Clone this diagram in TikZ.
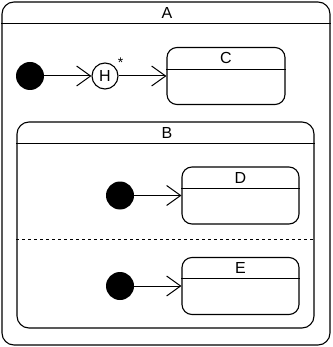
\documentclass[tikz,border=0pt]{standalone}
\usepackage{fontspec}
\setmainfont{Liberation Sans}
\usetikzlibrary{arrows.meta}
\begin{document}
\begin{tikzpicture}[x=1pt,y=-1pt,
  statebox/.style={draw, line width=1.1pt, inner sep=0pt},
  initstate/.style={circle, fill=black, minimum size=28pt, inner sep=0pt},
  histstate/.style={circle, draw, line width=1.1pt, minimum size=26pt, inner sep=0pt, font=\fontsize{16}{16}\selectfont},
  trans/.style={-{Straight Barb[length=14pt,width=20pt,line width=1pt]}, line width=1pt},
  titleline/.style={line width=0.9pt},
  lbl/.style={font=\fontsize{16}{16}\selectfont, inner sep=0pt}]
\useasboundingbox (0,0) rectangle (332,347);
% A
\node[statebox, rounded corners=12pt, minimum width=328pt, minimum height=343pt] (A) at (166,173.5) {};
\draw[titleline] (A.west |- 0,23) -- (A.east |- 0,23);
\node[lbl] (Alab) at (167,13) {A};
% initial + history + C
\node[initstate] (i1) at (30,76) {};
\node[histstate] (H) at (105,76) {H};
\node[font=\fontsize{14}{14}\selectfont, inner sep=0pt] (star) at (120.5,63) {*};
\node[statebox, rounded corners=10pt, minimum width=118pt, minimum height=57pt] (C) at (226,76) {};
\draw[titleline] (C.west |- 0,69) -- (C.east |- 0,69);
\node[lbl] (Clab) at (226,58) {C};
\draw[trans] (i1) -- (H);
\draw[trans] (H) -- (C);
% B
\node[statebox, rounded corners=12pt, minimum width=297pt, minimum height=206pt] (B) at (165.5,225) {};
\draw[titleline] (B.west |- 0,143) -- (B.east |- 0,143);
\node[lbl] (Blab) at (167,133) {B};
\draw[dashed, line width=0.8pt] (B.west |- 0,239) -- (B.east |- 0,239);
% D region
\node[initstate] (i2) at (120,195.5) {};
\node[statebox, rounded corners=10pt, minimum width=117pt, minimum height=57pt] (D) at (240.5,195.5) {};
\draw[titleline] (D.west |- 0,188) -- (D.east |- 0,188);
\node[lbl] (Dlab) at (240.5,178) {D};
\draw[trans] (i2) -- (D);
% E region
\node[initstate] (i3) at (120,286) {};
\node[statebox, rounded corners=10pt, minimum width=117pt, minimum height=57pt] (E) at (240.5,286) {};
\draw[titleline] (E.west |- 0,278) -- (E.east |- 0,278);
\node[lbl] (Elab) at (240.5,268) {E};
\draw[trans] (i3) -- (E);
\end{tikzpicture}
\end{document}
